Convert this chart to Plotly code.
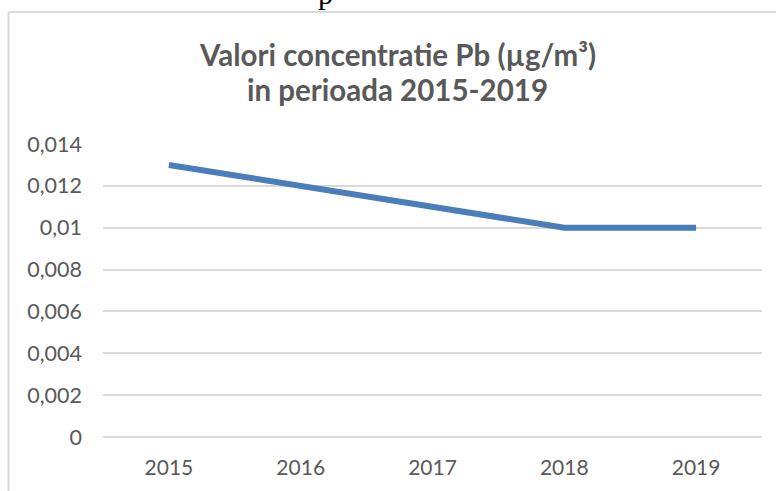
import plotly.graph_objects as go

years = ["2015", "2016", "2017", "2018", "2019"]
pb_values = [0.013, 0.012, 0.011, 0.010, 0.010]
y_tickvals = [0, 0.002, 0.004, 0.006, 0.008, 0.01, 0.012, 0.014]
y_ticktext = ["0", "0,002", "0,004", "0,006", "0,008", "0,01", "0,012", "0,014"]
title_lines = ["Valori concentratie Pb (µg/m³)", "in perioada 2015-2019"]

W, H = 776, 491
L, R, T, B = 103, 14, 144, 54
PW, PH = W - L - R, H - T - B

def px_to_paper_x(px):
    return (px - L) / PW

def px_to_paper_y(py):
    return (H - B - py) / PH

fig = go.Figure()
fig.add_trace(go.Scatter(
    x=years, y=pb_values, mode="lines",
    line=dict(color="#4A7EBB", width=6),
    hoverinfo="x+y",
))

grid_col = "#D9D9D9"
text_col = "#595959"
fig.update_layout(
    width=W, height=H,
    margin=dict(l=L, r=R, t=T, b=B),
    paper_bgcolor="white", plot_bgcolor="white",
    showlegend=False,
    xaxis=dict(
        type="category", range=[-0.5, 4.5],
        showgrid=False, zeroline=False, showline=False,
        ticks="", tickfont=dict(family="Lato", size=21, color=text_col),
        ticklabelstandoff=16,
    ),
    yaxis=dict(
        range=[0, 0.014], tickvals=y_tickvals, ticktext=y_ticktext,
        showgrid=True, gridcolor=grid_col, gridwidth=1.5,
        zeroline=True, zerolinecolor=grid_col, zerolinewidth=1.5,
        showline=False, ticks="",
        tickfont=dict(family="Lato", size=21.5, color=text_col),
        ticklabelstandoff=20,
    ),
    shapes=[
        dict(type="line", xref="paper", yref="paper",
             x0=px_to_paper_x(8.5), x1=px_to_paper_x(8.5),
             y0=px_to_paper_y(H + 5), y1=px_to_paper_y(12),
             line=dict(color=grid_col, width=2)),
        dict(type="line", xref="paper", yref="paper",
             x0=px_to_paper_x(8.5), x1=px_to_paper_x(W + 5),
             y0=px_to_paper_y(12), y1=px_to_paper_y(12),
             line=dict(color=grid_col, width=2)),
    ],
    annotations=[
        dict(text="<b>" + title_lines[0] + "</b>", xref="paper", yref="paper",
             x=px_to_paper_x(397.5), y=px_to_paper_y(54),
             xanchor="center", yanchor="middle", showarrow=False,
             font=dict(family="Lato", size=29.5, color=text_col)),
        dict(text="<b>" + title_lines[1] + "</b>", xref="paper", yref="paper",
             x=px_to_paper_x(397.5), y=px_to_paper_y(90),
             xanchor="center", yanchor="middle", showarrow=False,
             font=dict(family="Lato", size=29.5, color=text_col)),
        dict(text="p", xref="paper", yref="paper",
             x=px_to_paper_x(325), y=px_to_paper_y(-6),
             xanchor="center", yanchor="middle", showarrow=False,
             font=dict(family="Liberation Serif", size=30, color="black")),
    ],
)

fig.write_html("out.html", config={"displayModeBar": False},
               post_script="document.body.style.margin='0';")
